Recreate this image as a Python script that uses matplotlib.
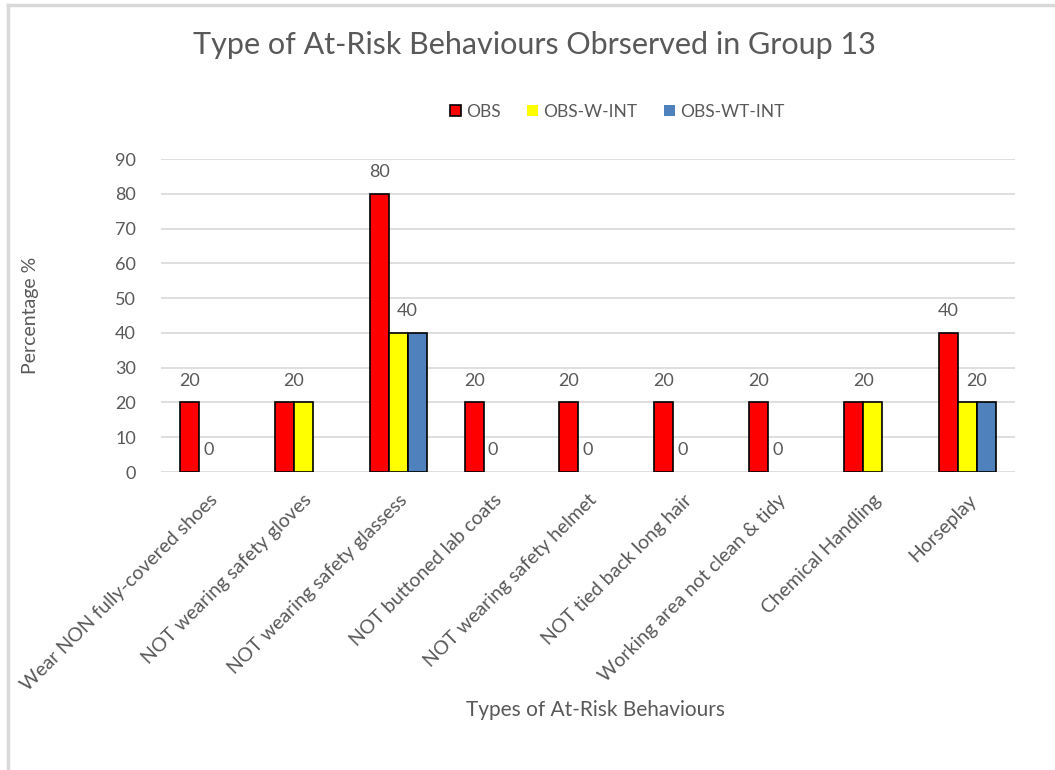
import matplotlib.pyplot as plt
import numpy as np

plt.rcParams['font.family'] = ['Lato', 'DejaVu Sans']

# behaviour categories and the percentage observed for each group
categories = ["Wear NON fully-covered shoes", "NOT wearing safety gloves",
              "NOT wearing safety glassess", "NOT buttoned lab coats",
              "NOT wearing safety helmet", "NOT tied back long hair",
              "Working area not clean & tidy", "Chemical Handling", "Horseplay"]
obs = [20, 20, 80, 20, 20, 20, 20, 20, 40]
obs_w_int = [0, 20, 40, 0, 0, 0, 0, 20, 20]
obs_wt_int = [0, 0, 40, 0, 0, 0, 0, 0, 20]

series_names = ["OBS", "OBS-W-INT", "OBS-WT-INT"]
series_colours = ["#ff0000", "#ffff00", "#4f81bd"]

grey = "#595959"
fig = plt.figure(figsize=(10.55, 7.7), dpi=100)
ax = fig.add_axes([0.1526, 0.387, 0.8094, 0.4065])

x = np.arange(len(categories))
width = 0.2
all_series = [obs, obs_w_int, obs_wt_int]
for i, (vals, name, col) in enumerate(zip(all_series, series_names, series_colours)):
    # zero bars get no outline so they stay invisible
    lw = [1.2 if v else 0 for v in vals]
    ax.bar(x + (i - 1) * width, vals, width, color=col, edgecolor="black",
           linewidth=lw, label=name, zorder=3)

# data labels for the first two series; equal neighbouring bars share one label
for c in range(len(categories)):
    for s in range(2):
        v = all_series[s][c]
        if s == 1 and all_series[0][c] == v and v != 0:
            continue
        xpos = x[c] + (s - 1) * width
        if all_series[s + 1][c] == v and v != 0:
            xpos += width / 2
        ax.annotate(str(v), (xpos, v), xytext=(0, 10), textcoords="offset points",
                    ha="center", va="bottom", fontsize=13, color=grey)

ax.set_ylim(0, 90)
ax.set_xlim(-0.5, len(categories) - 0.5)
ax.set_yticks(range(0, 91, 10))
ax.grid(axis="y", color="#d9d9d9", linewidth=1.2, zorder=0)
for sp in ax.spines.values():
    sp.set_visible(False)
ax.tick_params(axis="both", length=0, colors=grey, labelsize=13)
ax.tick_params(axis="y", pad=18)
ax.set_xticks(x)
ax.set_xticklabels(categories, rotation=45, ha="right", va="top",
                   rotation_mode="anchor", fontsize=14)
ax.tick_params(axis="x", pad=14)

ax.set_ylabel("Percentage %", fontsize=14, color=grey)
ax.yaxis.set_label_coords(-0.143, 0.5)
fig.text(0.564, 0.078, "Types of At-Risk Behaviours", ha="center", va="center",
         fontsize=15, color=grey)
fig.text(0.507, 0.942, "Type of At-Risk Behaviours Obrserved in Group 13",
         ha="center", va="center", fontsize=22, color=grey)

fig.legend(loc="center", bbox_to_anchor=(0.585, 0.855), ncol=3, frameon=False,
           fontsize=12.5, handlelength=0.65, handleheight=0.65, handletextpad=0.3,
           columnspacing=1.5, labelcolor=grey)

# light border lines along the top and left of the chart area
fig.add_artist(plt.Line2D([0.0075, 1.0], [0.9935, 0.9935], color="#d9d9d9", linewidth=2.5))
fig.add_artist(plt.Line2D([0.0075, 0.0075], [0.0, 0.9935], color="#d9d9d9", linewidth=2.5))

fig.savefig("out.png", dpi=100)
